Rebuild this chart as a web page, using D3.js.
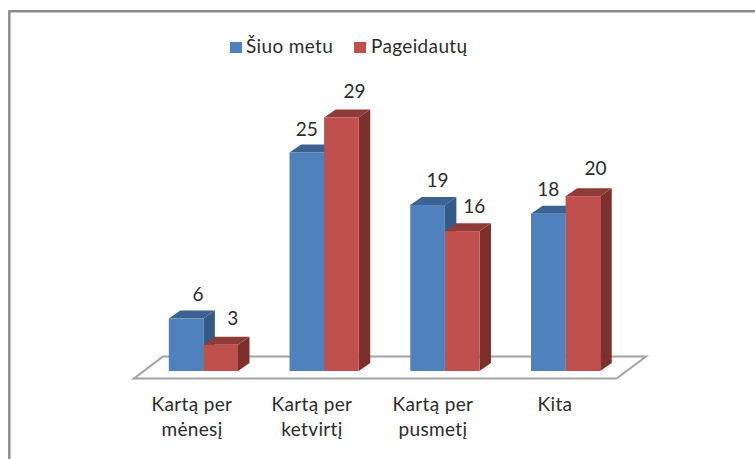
<!DOCTYPE html>
<html><head><meta charset="utf-8">
<script src="https://cdn.jsdelivr.net/npm/d3@7/dist/d3.min.js"></script>
<style>html,body{margin:0;padding:0;background:#fff}svg{display:block}text{font-family:Lato,sans-serif;fill:#2b2b2b}</style>
</head><body><svg id="c" width="755" height="459"></svg>
<script>
const categories=[["Kartą per","mėnesį"],["Kartą per","ketvirtį"],["Kartą per","pusmetį"],["Kita"]];
const seriesNames=["Šiuo metu","Pageidautų"];
const currentValues=[6,25,19,18];
const desiredValues=[3,29,16,20];
const allValues=[currentValues,desiredValues];
const colors=[{f:"#4f81bd",t:"#3c6291",s:"#355a86"},{f:"#c0504d",t:"#8f3b39",s:"#7c302e"}];

const svg=d3.select("#c");
svg.append("path").attr("d","M9.3,459V11.3H755").attr("fill","none").attr("stroke","#8c8c8c").attr("stroke-width",2.4);

const x=d3.scaleBand().domain(d3.range(4)).range([143,626]);
const y=d3.scaleLinear().domain([0,29]).range([371,117.5]);
const barW=34.6,dx=11.5,dy=8,off=(x.bandwidth()-2*barW)/2;
// data-label placement relative to each bar (series, then category)
const labelDx=[[12,0,10,0],[12,13,12,12.5]];
const labelDy=[[18,16,18,18],[19.5,20,18,21]];
const labelCx=[192,312,433,555];

const fl=[[x.range()[0]-9,378.5],[x.range()[1]-9.5,378.5],[x.range()[1]+20,356.5],[x.range()[0]+20,356.5]];
svg.append("polygon").attr("points",fl.join(" ")).attr("fill","#fff").attr("stroke","#a3a3a3").attr("stroke-width",2);

categories.forEach((c,i)=>{
  const g=svg.append("g");
  allValues.forEach((vals,s)=>{
    const x0=x(i)+off+s*barW,x1=x0+barW,yt=y(vals[i]),yb=y(0),col=colors[s];
    g.append("polygon").attr("points",[[x1,yb],[x1+dx,yb-dy],[x1+dx,yt-dy],[x1,yt]].join(" ")).attr("fill",col.s);
    g.append("polygon").attr("points",[[x0,yt],[x0+dx,yt-dy],[x1+dx,yt-dy],[x1,yt]].join(" ")).attr("fill",col.t);
    g.append("rect").attr("x",x0).attr("y",yt).attr("width",barW).attr("height",yb-yt).attr("fill",col.f);
  });
});
categories.forEach((c,i)=>{
  allValues.forEach((vals,s)=>{
    const x0=x(i)+off+s*barW;
    svg.append("text").attr("x",x0+barW/2+labelDx[s][i]).attr("y",y(vals[i])-labelDy[s][i]).attr("text-anchor","middle").attr("font-size",19).text(vals[i]);
  });
  const t=svg.append("text").attr("text-anchor","middle").attr("font-size",19).attr("letter-spacing",0.35);
  c.forEach((l,k)=>t.append("tspan").attr("x",labelCx[i]).attr("y",411+k*24.5).text(l));
});

const lx=[230,354],tx=[246,371];
seriesNames.forEach((n,i)=>{
  svg.append("rect").attr("x",lx[i]).attr("y",42).attr("width",12).attr("height",11).attr("fill",colors[i].f);
  svg.append("text").attr("x",tx[i]).attr("y",53).attr("font-size",19).attr("letter-spacing",0.35).text(n);
});
</script></body></html>
